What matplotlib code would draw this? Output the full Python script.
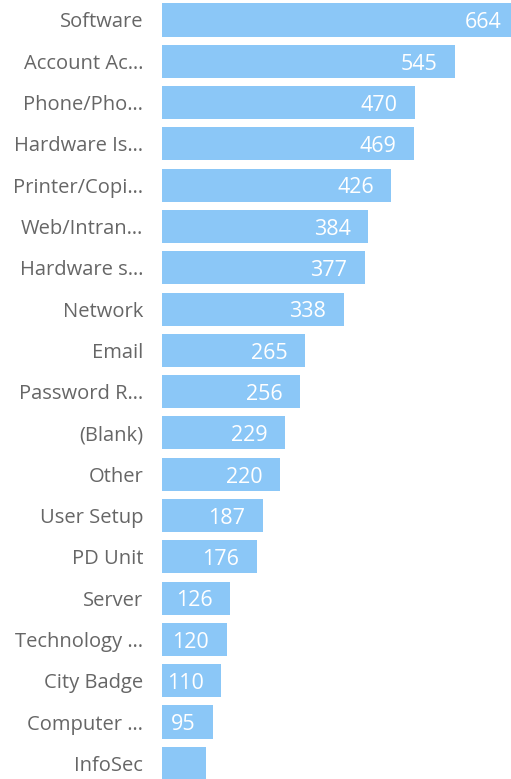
import matplotlib.pyplot as plt

categories = ['Software', 'Account Ac…', 'Phone/Pho…', 'Hardware Is…', 'Printer/Copi…',
              'Web/Intran…', 'Hardware s…', 'Network', 'Email', 'Password R…',
              '(Blank)', 'Other', 'User Setup', 'PD Unit', 'Server',
              'Technology …', 'City Badge', 'Computer …', 'InfoSec']
counts = [664, 545, 470, 469, 426, 384, 377, 338, 265, 256,
          229, 220, 187, 176, 126, 120, 110, 95, 81]
show_label = [True] * 18 + [False]

plt.rcParams['font.family'] = ['Open Sans', 'DejaVu Sans']

fig = plt.figure(figsize=(5.11, 7.79), dpi=100)
ax = fig.add_axes([162 / 511, 0, 1 - 162 / 511, 1])

ypos = list(range(len(categories)))
ax.barh(ypos, counts, height=0.8, color='#8bc7f7')

for y, v, s in zip(ypos, counts, show_label):
    if s:
        ax.annotate(str(v), xy=(v, y), xytext=(-12.5, -2), textcoords='offset points',
                    ha='right', va='center', color='white', fontsize=15.5,
                    annotation_clip=False)

ax.set_xlim(0, 649)
ax.set_ylim(18.38, -0.484)
ax.set_yticks(ypos)
ax.set_yticklabels(categories, fontsize=14.5, color='#666666')
ax.tick_params(axis='y', length=0, pad=13.5)
ax.set_xticks([])
for sp in ax.spines.values():
    sp.set_visible(False)

fig.savefig('out.png', dpi=100)
